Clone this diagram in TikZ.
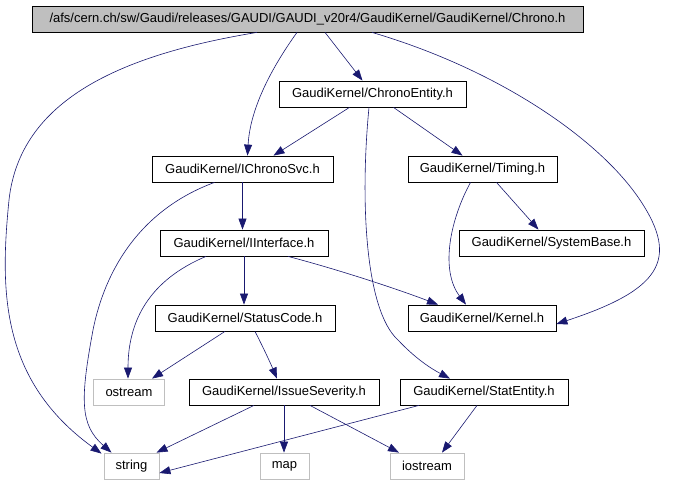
\documentclass[tikz,border=0pt]{standalone}
\usepackage{fontspec}
\setmainfont{Liberation Sans}
\usetikzlibrary{arrows.meta}
\definecolor{edgeblue}{HTML}{191970}
\definecolor{graybox}{HTML}{BFBFBF}
\definecolor{rootfill}{HTML}{BFBFBF}
\begin{document}
\begin{tikzpicture}[x=1pt,y=-1pt,
  box/.style={draw=black,line width=0.8pt,minimum height=26pt,inner sep=0pt,font=\fontsize{13}{14}\selectfont,anchor=center},
  sysbox/.style={draw=graybox,line width=0.8pt,minimum height=26pt,inner sep=0pt,font=\fontsize{13}{14}\selectfont,anchor=center},
  e/.style={draw=edgeblue,line width=0.6pt,-{Triangle[length=11pt,width=8pt]}}]
\useasboundingbox (0,0) rectangle (678,485);
% nodes
\node[box,fill=rootfill,minimum width=551pt] (chrono) at (307.5,19) {/afs/cern.ch/sw/Gaudi/releases/GAUDI/GAUDI\_v20r4/GaudiKernel/GaudiKernel/Chrono.h};
\node[box,minimum width=187pt] (centity) at (372.5,94) {GaudiKernel/ChronoEntity.h};
\node[box,minimum width=181pt] (ichrono) at (242.5,169) {GaudiKernel/IChronoSvc.h};
\node[box,minimum width=149pt] (timing) at (482.5,169) {GaudiKernel/Timing.h};
\node[box,minimum width=168pt] (iinterface) at (244,243) {GaudiKernel/IInterface.h};
\node[box,minimum width=185pt] (sysbase) at (551.5,243) {GaudiKernel/SystemBase.h};
\node[box,minimum width=180pt] (status) at (245,318) {GaudiKernel/StatusCode.h};
\node[box,minimum width=148pt] (kernel) at (482,318) {GaudiKernel/Kernel.h};
\node[sysbox,minimum width=71pt] (ostream) at (129,392) {ostream};
\node[box,minimum width=190pt] (issue) at (284,392) {GaudiKernel/IssueSeverity.h};
\node[box,minimum width=168pt] (statent) at (484,392) {GaudiKernel/StatEntity.h};
\node[sysbox,minimum width=55pt] (string) at (131.5,466) {string};
\node[sysbox,minimum width=49pt] (map) at (284.5,466) {map};
\node[sysbox,minimum width=74pt] (iostream) at (427,466) {iostream};
% edges
\draw[e] ([xshift=-50.5pt]chrono.south) .. controls (120,55) and (20,100) .. (9,200)
  .. controls (0,290) and (0,380) .. ([xshift=-30pt,yshift=-1pt]string.north);
\draw[e] ([xshift=-10.5pt]chrono.south) .. controls (270,70) and (250,110) .. ([xshift=5pt]ichrono.north);
\draw[e] ([xshift=17.5pt]chrono.south) -- ([xshift=-10pt]centity.north);
\draw[e] ([xshift=64.5pt]chrono.south) .. controls (500,70) and (600,140) .. (640,200)
  .. controls (680,260) and (660,290) .. ([yshift=-6pt]kernel.east);
\draw[e] ([xshift=-23pt]centity.south) -- ([xshift=31pt]ichrono.north);
\draw[e] ([xshift=21pt]centity.south) -- ([xshift=-20pt]timing.north);
\draw[e] ([xshift=-3.5pt]centity.south) .. controls (360,200) and (365,310) .. (398,340)
  .. controls (415,358) and (430,368) .. ([xshift=-34pt]statent.north);
\draw[e] (ichrono.south) -- (iinterface.north -| ichrono.south);
\draw[e] ([xshift=-28pt]ichrono.south) .. controls (140,210) and (105,270) .. (93,330)
  .. controls (80,400) and (80,425) .. ([xshift=-20pt]string.north);
\draw[e] ([xshift=14pt]timing.south) -- ([xshift=-13pt]sysbase.north);
\draw[e] ([xshift=-12pt]timing.south) .. controls (450,220) and (440,270) .. ([xshift=-16pt]kernel.north);
\draw[e] (iinterface.south) -- (status.north -| iinterface.south);
\draw[e] ([xshift=-38pt]iinterface.south) .. controls (150,280) and (128,320) .. ([xshift=-1pt]ostream.north);
\draw[e] ([xshift=44pt]iinterface.south) .. controls (340,270) and (400,290) .. ([xshift=-44pt]kernel.north);
\draw[e] ([xshift=-20pt]status.south) -- ([xshift=23pt]ostream.north);
\draw[e] ([xshift=10pt]status.south) .. controls (262,345) and (270,362) .. ([xshift=-7pt]issue.north);
\draw[e] ([xshift=-30pt]issue.south) -- ([xshift=25pt]string.north);
\draw[e] (issue.south) -- (map.north -| issue.south);
\draw[e] ([xshift=26pt]issue.south) -- ([xshift=-28pt]iostream.north);
\draw[e] ([xshift=-65pt]statent.south) -- ([yshift=-7pt]string.east);
\draw[e] ([xshift=-7pt]statent.south) -- ([xshift=15pt]iostream.north);
\end{tikzpicture}
\end{document}
